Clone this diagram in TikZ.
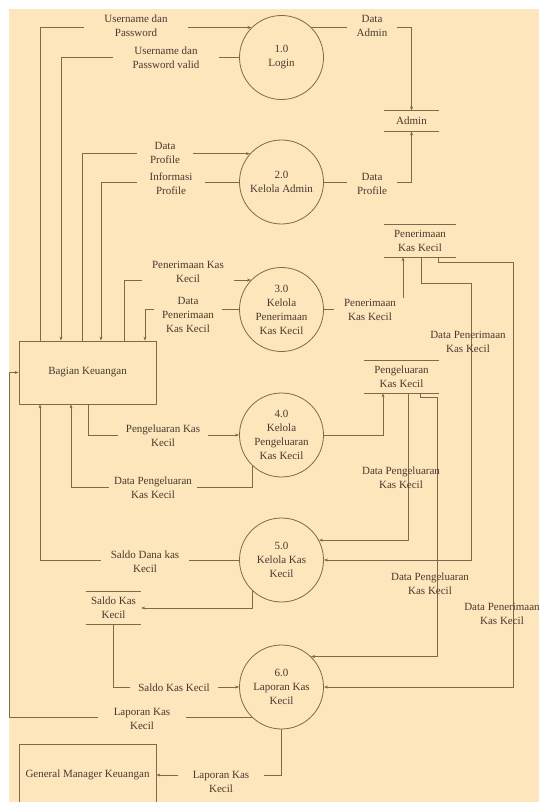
\documentclass[tikz,border=0pt]{standalone}
\usepackage{fontspec}
\setmainfont{Liberation Serif}
\usetikzlibrary{arrows.meta,calc}
\definecolor{bgc}{RGB}{253,229,188}
\definecolor{lnc}{RGB}{128,104,74}
\definecolor{txc}{RGB}{72,58,46}
\begin{document}
\begin{tikzpicture}[x=1pt,y=-1pt,
  every node/.style={font=\fontsize{11}{14}\selectfont, text=txc},
  proc/.style={circle,draw=lnc,line width=0.8pt,minimum size=84pt,inner sep=0pt,align=center},
  ent/.style={draw=lnc,line width=0.8pt,minimum width=137pt,minimum height=63pt,inner sep=2pt},
  store/.style={inner sep=1pt,align=center},
  sline/.style={draw=lnc,line width=0.8pt},
  flow/.style={draw=lnc,line width=0.8pt,-{Stealth[length=4pt,width=3pt]}},
  lab/.style={fill=bgc,align=center,inner xsep=10pt,inner ysep=1pt},
  tlab/.style={align=center,inner sep=1pt}]
\useasboundingbox (0,0) rectangle (539,802);
\clip (0,0) rectangle (539,802);
\fill[white] (0,0) rectangle (539,802);
\fill[bgc] (9,9) rectangle (539,802);

% column coordinates
\foreach \x in {9,40,61,71,82,88,101,124,145,383,403,408,420,421,438}{\coordinate (cx\x) at (\x,0);}

% entities
\node[ent] (box) at (87.5,372.5) {Bagian Keuangan};
\node[ent,minimum height=62pt] (gm) at (87.5,775) {General Manager Keuangan};

% processes
\node[proc] (c1) at (281.5,57.5) {1.0\\Login};
\node[proc] (c2) at (281.5,182) {2.0\\Kelola Admin};
\node[proc] (c3) at (281.5,309.5) {3.0\\Kelola\\Penerimaan\\Kas Kecil};
\node[proc] (c4) at (281.5,435) {4.0\\Kelola\\Pengeluaran\\Kas Kecil};
\node[proc] (c5) at (281.5,560) {5.0\\Kelola Kas\\Kecil};
\node[proc] (c6) at (281.5,687) {6.0\\Laporan Kas\\Kecil};

% data stores
\node[store,minimum width=55pt,minimum height=20.5pt] (adm) at (411.5,121) {Admin};
\node[store,minimum width=72pt,minimum height=32pt] (pkk) at (420,241) {Penerimaan\\Kas Kecil};
\node[store,minimum width=75pt,minimum height=32pt] (pgk) at (401.5,377) {Pengeluaran\\Kas Kecil};
\node[store,minimum width=55pt,minimum height=32pt] (skk) at (113.5,608) {Saldo Kas\\Kecil};
\foreach \s in {adm,pkk,pgk,skk}{
  \draw[sline] (\s.north west) -- (\s.north east) (\s.south west) -- (\s.south east);}

% flows
\draw[flow] (cx40 |- box.north) |- (c1.135);
\draw[flow] (c1.west) -| (cx61 |- box.north);
\draw[flow] (cx82 |- box.north) |- (c2.138);
\draw[flow] (c2.west) -| (cx101 |- box.north);
\draw[flow] (c1.45) -| (adm.north);
\draw[flow] (c2.east) -| (adm.south);
\draw[flow] (cx124 |- box.north) |- (c3.136);
\draw[flow] (c3.west) -| (cx145 |- box.north);
\draw[flow] (c3.east) -| (cx403 |- pkk.south);
\draw[flow] (cx421 |- pkk.south) |- (471,283) |- (c5.east);
\draw[flow] (cx438 |- pkk.south) |- (513,262) |- (c6.east);
\draw[flow] (cx88 |- box.south) |- (c4.west);
\draw[flow] (c4.226) |- (71,487) -- (cx71 |- box.south);
\draw[flow] (c4.east) -| (cx383 |- pgk.south);
\draw[flow] (cx408 |- pgk.south) |- (c5.28);
\draw[flow] (cx420 |- pgk.south) |- (437,397) |- (c6.46);
\draw[flow] (c5.west) -| (cx40 |- box.south);
\draw[flow] (c5.226) |- (skk.east);
\draw[flow] (skk.south) |- (c6.west);
\draw[flow] (c6.226) -| (cx9 |- box.west) -- (box.west);
\draw[flow] (c6.south) |- (gm.east);

% labels
\node[lab,inner xsep=20pt] (l1) at (136,26) {Username dan\\Password};
\node[lab,inner xsep=20pt] (l2) at (166,58) {Username dan\\Password valid};
\node[lab,inner xsep=13pt] (l3) at (165,153) {Data\\Profile};
\node[lab,inner xsep=13pt] (l4) at (171,184) {Informasi\\Profile};
\node[lab] (l5) at (372,26) {Data\\Admin};
\node[lab] (l6) at (372,184) {Data\\Profile};
\node[lab] (l7) at (188,272) {Penerimaan Kas\\Kecil};
\node[lab,inner xsep=8pt] (l8) at (188,315) {Data\\Penerimaan\\Kas Kecil};
\node[lab] (l9) at (370,310) {Penerimaan\\Kas Kecil};
\node[tlab] (l10) at (468,342) {Data Penerimaan\\Kas Kecil};
\node[tlab] (l11) at (502,614) {Data Penerimaan\\Kas Kecil};
\node[lab,inner xsep=8pt] (l12) at (163,436) {Pengeluaran Kas\\Kecil};
\node[lab,inner xsep=5pt] (l13) at (153,488) {Data Pengeluaran\\Kas Kecil};
\node[tlab] (l15) at (401,478) {Data Pengeluaran\\Kas Kecil};
\node[tlab] (l16) at (430,584) {Data Pengeluaran\\Kas Kecil};
\node[lab] (l17) at (145,562) {Saldo Dana kas\\Kecil};
\node[lab,inner xsep=8pt] (l19) at (174,688) {Saldo Kas Kecil};
\node[lab,inner xsep=16pt] (l20) at (142,719) {Laporan Kas\\Kecil};
\node[lab,inner xsep=15pt] (l21) at (221,782) {Laporan Kas\\Kecil};
\end{tikzpicture}
\end{document}
